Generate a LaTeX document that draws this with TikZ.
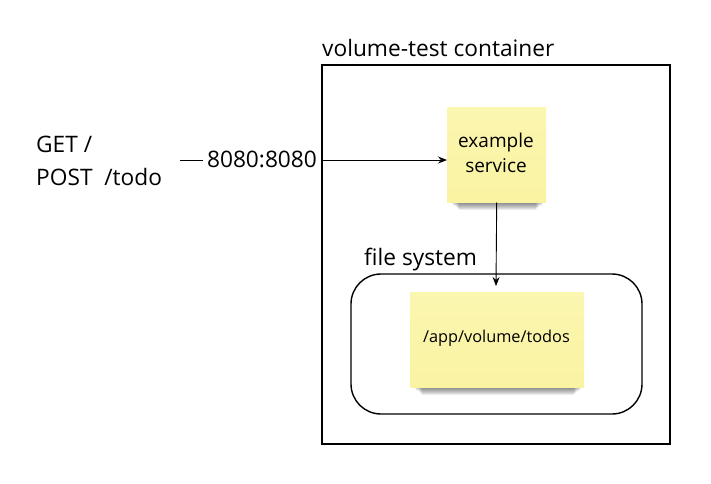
\documentclass[tikz,border=0pt]{standalone}
\usepackage{fontspec}
\setmainfont{Open Sans}
\usetikzlibrary{arrows.meta}
\definecolor{sticky}{RGB}{250,243,162}
\definecolor{stickytop}{RGB}{251,246,176}
\tikzset{
  lbl/.style={font=\fontsize{22.7}{26}\selectfont, inner sep=0pt},
  note/.style={shade, top color=stickytop, bottom color=sticky, draw=none, inner sep=0pt, align=center},
  conn/.style={line width=0.9pt, -{Stealth[length=9pt,width=7pt]}},
}
\newcommand{\noteshadow}[4]{%
  \foreach \k in {0,1,2,3,4,5,6}{%
    \fill[black, opacity=0.075] (#1+5+\k*1.2,#4-6+\k*0.4) rectangle (#3-3-\k*1.2,#4+1.5+\k*1.0);
  }%
}
\begin{document}
\begin{tikzpicture}[x=1pt,y=-1pt]
\useasboundingbox (0,0) rectangle (711,483);
\fill[white] (0,0) rectangle (711,483);

% container
\draw[line width=1.6pt] (322,65) rectangle (670,444);
\node[lbl, anchor=base west] (ctitle) at (322,56) {volume-test container};

% file system box
\draw[line width=1.4pt, rounded corners=30pt] (351,274) rectangle (642,414);
\node[lbl, anchor=base west] (fstitle) at (364,265) {file system};

% shadows
\noteshadow{447}{107}{546}{202}
\noteshadow{410}{292}{584}{387}

% sticky notes
\node[note, minimum width=99pt, minimum height=95pt, anchor=north west] (svc) at (447,107) {};
\node[font=\fontsize{19}{25}\selectfont, anchor=base, inner sep=0pt] at (496,147) {example};
\node[font=\fontsize{19}{25}\selectfont, anchor=base, inner sep=0pt] at (496,172) {service};

\node[note, minimum width=174pt, minimum height=95pt, anchor=north west] (todos) at (410,292) {};
\node[font=\fontsize{16.3}{20}\selectfont, anchor=base, inner sep=0pt] (todostxt) at (496.5,342) {/app/volume/todos};

% request text
\node[lbl, anchor=base west] (get) at (36,152) {GET /};
\node[lbl, anchor=base west] (post) at (36,185) {POST\ \ /todo};

% connectors
\coordinate (start) at (180,160);
\draw[conn] (start) -- node[pos=0.307, fill=white, lbl, inner xsep=4pt, inner ysep=3pt, yshift=0.5pt] (port) {8080:8080} (svc.west |- start);
\coordinate (fsend) at (496,286);
\draw[conn] (svc.south) -- (fsend);
\end{tikzpicture}
\end{document}
